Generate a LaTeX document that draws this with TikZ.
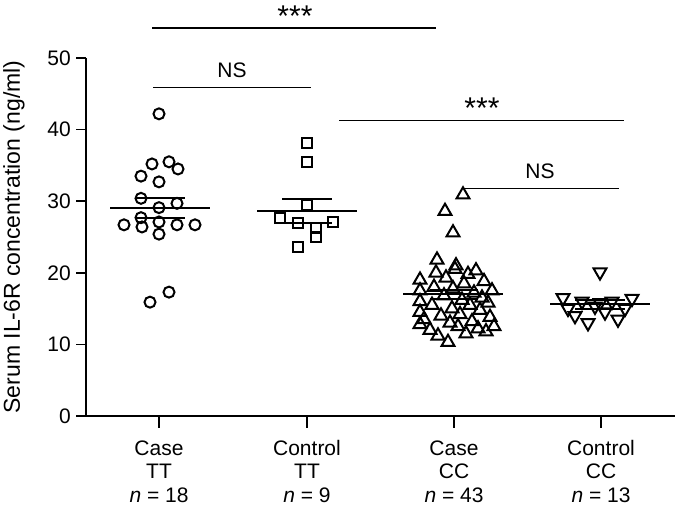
\documentclass[tikz,border=0pt]{standalone}
\usepackage{fontspec}
\setmainfont{Liberation Sans}
\usetikzlibrary{shapes.geometric}

\begin{document}
\begin{tikzpicture}[x=1pt, y=7.16pt, font=\fontsize{21}{24}\selectfont]
        \tikzstyle{circ} = [draw=black, circle, line width=2pt, minimum size=11pt, inner sep=0pt]
        \tikzstyle{sqr} = [draw=black, rectangle, line width=2pt, minimum size=10pt, inner sep=0pt]
        \tikzstyle{tri} = [draw=black, regular polygon, regular polygon sides=3, line width=2pt, minimum size=15pt, inner sep=0pt]
        \tikzstyle{itri} = [tri, shape border rotate=180]
        \tikzstyle{bar} = [line width=2pt]
        \tikzstyle{sig} = [line width=1.5pt]
        \tikzstyle{stars} = [font=\fontsize{30}{30}\selectfont]

        \useasboundingbox (0,-14.39) rectangle (675,58.1);

        % axes
        \coordinate (o) at (86,0);
        \coordinate (top) at (86,50);
        \coordinate (xend) at (675,0);
        \draw[line width=1.5pt] (top) -- (o) -- (xend);
        \foreach \v in {0,10,...,50} {
          \draw[line width=1.5pt] (76,\v) -- (86,\v);
          \node[anchor=east, inner sep=0pt] (t\v) at (71,\v) {\v};
        }
        \node[rotate=90, font=\fontsize{23}{25}\selectfont] (ylab) at (14,25) {Serum IL-6R concentration (ng/ml)};

        % groups
        \foreach \x/\a/\b/\n [count=\i] in {159/Case/TT/18, 307/Control/TT/9, 454/Case/CC/43, 601/Control/CC/13} {
          \draw[line width=1.5pt] (\x,0) -- (\x,-1.7);
          \node (ga\i) at (\x,-4.47) {\a};
          \node (gb\i) at (\x,-7.7) {\b};
          \node (gn\i) at (\x,-11.1) {\textit{n} = \n};
        }

        % Case TT
        \foreach \x/\v [count=\i] in {159/42.2, 152/35.2, 169/35.5, 178/34.5, 141/33.5, 159/32.7, 141/30.4, 177/29.7, 159/29.1, 141/27.7, 124/26.7, 142/26.4, 159/27.1, 177/26.7, 195/26.7, 159/25.4, 150/15.9, 169/17.3}
          \node[circ] (c\i) at (\x,\v) {};
        \draw[bar] (110,29.0) -- (210,29.0);
        \draw[bar] (135,30.4) -- (185,30.4);
        \draw[bar] (135,27.7) -- (185,27.7);

        % Control TT
        \foreach \x/\v [count=\i] in {307/38.1, 307/35.5, 307/29.5, 280/27.7, 298/27.0, 333/27.1, 316/26.3, 316/25.0, 298/23.6}
          \node[sqr] (s\i) at (\x,\v) {};
        \draw[bar] (257,28.6) -- (357,28.6);
        \draw[bar] (282,30.3) -- (332,30.3);
        \draw[bar] (282,27.0) -- (332,27.0);

        % Case CC
        \foreach \x/\v [count=\i] in {463/30.9, 445/28.6, 453/25.6, 437/21.8,
            420/12.8, 420/14.5, 420/16, 420/17.5, 420/19, 424/13.5, 430/12, 432/15.5, 434/18, 436/20,
            438/11.2, 441/14, 444/16.8, 446/19.3, 448/10.3, 450/13, 452/15, 453/17.8, 455/20.5, 456/21,
            458/12.5, 460/14.2, 462/16.2, 464/18.5, 466/11.5, 468/19.8, 470/15.5, 472/13.2, 474/17.2,
            476/20.3, 478/12.2, 480/14.8, 482/16.5, 484/18.8, 486/11.8, 488/15.8, 490/13.8, 492/17.5, 494/12.5}
          \node[tri] (u\i) at (\x,\v) {};
        \draw[bar] (403,17.0) -- (503,17.0);
        \draw[bar] (430,17.6) -- (478,17.6);
        \draw[bar] (430,16.4) -- (478,16.4);

        % Control CC
        \foreach \x/\v [count=\i] in {600/20.1, 563/16.5, 568/15, 575/14, 582/16, 588/13, 595/15.3, 600/15.8, 605/14.5, 612/16, 618/13.5, 625/15, 632/16.4}
          \node[itri] (d\i) at (\x,\v) {};
        \draw[bar] (550,15.6) -- (650,15.6);
        \draw[bar] (575,16.2) -- (625,16.2);
        \draw[bar] (575,15.0) -- (625,15.0);

        % significance
        \coordinate (s1a) at (152,54.2); \coordinate (s1b) at (436,54.2);
        \draw[sig] (s1a) -- (s1b);
        \node[stars] (st1) at (295,55.9) {***};
        \coordinate (s2a) at (153,45.9); \coordinate (s2b) at (311,45.9);
        \draw[sig] (s2a) -- (s2b);
        \node (ns1) at (232,48.3) {NS};
        \coordinate (s3a) at (339,41.3); \coordinate (s3b) at (624,41.3);
        \draw[sig] (s3a) -- (s3b);
        \node[stars] (st2) at (482,43.0) {***};
        \coordinate (s4a) at (463,31.8); \coordinate (s4b) at (619,31.8);
        \draw[sig] (s4a) -- (s4b);
        \node (ns2) at (540,34.2) {NS};
      \end{tikzpicture}
\end{document}
